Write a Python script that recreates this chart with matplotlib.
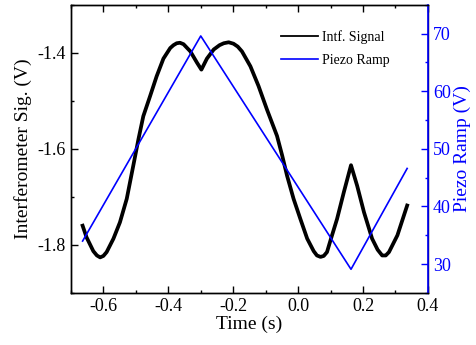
import matplotlib
matplotlib.use("Agg")
import matplotlib.pyplot as plt
from matplotlib.lines import Line2D
from matplotlib.ticker import MultipleLocator, FormatStrFormatter

plt.rcParams.update({
    "font.family": "serif",
    "font.serif": ["Liberation Serif", "DejaVu Serif"],
    "axes.unicode_minus": False,
})

# ---------------------------------------------------------------------------
# Data
# ---------------------------------------------------------------------------
t_sig = [-0.664, -0.652, -0.631, -0.620, -0.610, -0.600, -0.590, -0.569,
         -0.549, -0.528, -0.507, -0.492, -0.477, -0.456, -0.436, -0.415,
         -0.394, -0.384, -0.374, -0.364, -0.353, -0.332, -0.312, -0.298,
         -0.281, -0.260, -0.242, -0.229, -0.214, -0.199, -0.186, -0.173,
         -0.147, -0.122, -0.096, -0.065, -0.049, -0.034, -0.014, 0.007,
         0.028, 0.048, 0.058, 0.069, 0.079, 0.089, 0.100, 0.120,
         0.141, 0.163, 0.182, 0.203, 0.228, 0.245, 0.259, 0.270,
         0.280, 0.306, 0.336]
sig = [-1.760, -1.784, -1.813, -1.822, -1.826, -1.823, -1.815, -1.787,
       -1.753, -1.704, -1.632, -1.580, -1.532, -1.490, -1.449, -1.412,
       -1.390, -1.384, -1.380, -1.379, -1.382, -1.397, -1.420, -1.435,
       -1.412, -1.393, -1.384, -1.380, -1.378, -1.381, -1.387, -1.397,
       -1.428, -1.469, -1.518, -1.573, -1.614, -1.656, -1.704, -1.746,
       -1.787, -1.813, -1.822, -1.825, -1.823, -1.815, -1.790, -1.746,
       -1.690, -1.634, -1.677, -1.732, -1.787, -1.810, -1.822, -1.822,
       -1.815, -1.780, -1.718]

t_ramp = [-0.664, -0.300, 0.163, 0.336]
ramp = [34.0, 69.6, 29.1, 46.6]

BLUE = "#0000ff"

# ---------------------------------------------------------------------------
# Figure
# ---------------------------------------------------------------------------
fig = plt.figure(figsize=(4.76, 3.45), dpi=100)
ax = fig.add_axes([0.149, 0.151, 0.750, 0.835])
ax2 = ax.twinx()

ax.plot(t_sig, sig, color="black", lw=2.7)
ax2.plot(t_ramp, ramp, color=BLUE, lw=1.2)

ax.set_xlim(-0.7, 0.4)
ax.set_ylim(-1.9, -1.3)
ax2.set_ylim(25, 75)

ax.xaxis.set_major_locator(MultipleLocator(0.2))
ax.xaxis.set_minor_locator(MultipleLocator(0.1))
ax.yaxis.set_major_locator(MultipleLocator(0.2))
ax.yaxis.set_minor_locator(MultipleLocator(0.1))
ax2.yaxis.set_major_locator(MultipleLocator(10))
ax2.yaxis.set_minor_locator(MultipleLocator(5))

ax.xaxis.set_major_formatter(FormatStrFormatter("%.1f"))
ax.yaxis.set_major_formatter(FormatStrFormatter("%.1f"))

ax.tick_params(which="both", direction="in", top=True, right=False,
               labelsize=13, width=1.0)
ax.tick_params(which="major", length=5)
ax.tick_params(which="minor", length=2.5)
ax2.tick_params(which="both", direction="in", colors=BLUE, labelsize=13,
                width=1.0)
ax2.tick_params(which="major", length=5)
ax2.tick_params(which="minor", length=2.5)

for sp in ax.spines.values():
    sp.set_linewidth(1.0)
for sp in ax2.spines.values():
    sp.set_linewidth(1.0)
ax2.spines["right"].set_color(BLUE)
ax2.spines["right"].set_linewidth(1.2)

ax.set_xlabel("Time (s)", fontsize=14, labelpad=1)
ax.set_ylabel("Interferometer Sig. (V)", fontsize=14, labelpad=4)
ax2.set_ylabel("Piezo Ramp (V)", fontsize=14, color=BLUE, labelpad=2)

handles = [Line2D([], [], color="black", lw=1.3),
           Line2D([], [], color=BLUE, lw=1.2)]
ax.legend(handles, ["Intf. Signal", "Piezo Ramp"], loc="upper left",
          bbox_to_anchor=(0.574, 0.93), frameon=False, fontsize=10,
          handlelength=2.6, handletextpad=0.3, labelspacing=0.7,
          borderaxespad=0)

fig.savefig("out.png", dpi=100)
